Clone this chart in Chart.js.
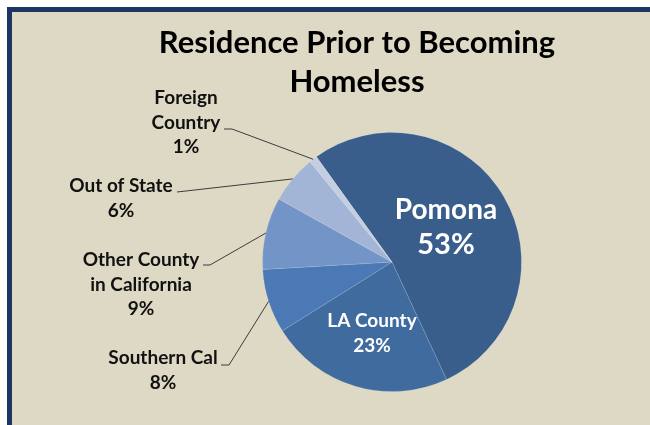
<!DOCTYPE html>
<html>
<head>
<meta charset="utf-8">
<script src="https://cdn.jsdelivr.net/npm/chart.js@4.4.1/dist/chart.umd.min.js"></script>
<style>
    body { margin: 0; width: 650px; height: 425px; overflow: hidden; background: #ffffff; }
    #frame {
        position: absolute; left: 7px; top: 7px; width: 643px; height: 414px;
        background: #ddd9c4;
        border-left: 5px solid #1c3661;
        border-top: 5px solid #1c3661;
        border-bottom: 2px solid #8e9893;
    }
    #wrap { position: absolute; left: 0; top: 0; width: 650px; height: 425px; }
</style>
</head>
<body>
<div id="frame"></div>
<div id="wrap"><canvas id="chart" width="650" height="425"></canvas></div>
<script>
const categories = ['Pomona', 'LA County', 'Southern Cal', 'Other County in California', 'Out of State', 'Foreign Country'];
const values = [53, 23, 8, 9, 6, 1];
const sliceColors = ['#3a5e8c', '#406b9f', '#4a79b5', '#7394c7', '#a3b5d7', '#c4cee3'];
const titleLines = ['Residence Prior to Becoming', 'Homeless'];

const FONT = 'Lato, "Open Sans", sans-serif';

// how each label is written and where it sits
const labelStyle = [
    { lines: ['Pomona'], x: 446, y: 210, size: 28, pctSize: 29, lineH: 35, color: '#ffffff' },
    { lines: ['LA County'], x: 372, y: 321, size: 19, pctSize: 19, lineH: 25, color: '#ffffff' },
    { lines: ['Southern Cal'], x: 163, y: 358, size: 19, pctSize: 19, lineH: 25, color: '#111111', lead: [[221, 365], [229, 365]] },
    { lines: ['Other County', 'in California'], x: 141, y: 260, size: 19, pctSize: 19, lineH: 24.5, color: '#111111', lead: [[203, 265], [210, 265]] },
    { lines: ['Out of State'], x: 121, y: 186, size: 19, pctSize: 19, lineH: 25, color: '#111111', lead: [[177, 192]] },
    { lines: ['Foreign', 'Country'], x: 186, y: 98, size: 19, pctSize: 19, lineH: 24.5, color: '#111111', lead: [[224, 129], [232, 129]] }
];

const labelPlugin = {
    id: 'pieLabels',
    afterDraw(chart) {
        const ctx = chart.ctx;
        ctx.save();

        // title
        ctx.fillStyle = '#000000';
        ctx.font = 'bold 31px ' + FONT;
        ctx.textAlign = 'center';
        ctx.textBaseline = 'middle';
        titleLines.forEach((t, i) => ctx.fillText(t, 357, 43 + i * 39));

        const arcs = chart.getDatasetMeta(0).data;
        arcs.forEach((arc, i) => {
            const st = labelStyle[i];
            const rows = st.lines.concat([values[i] + '%']);

            ctx.fillStyle = st.color;
            rows.forEach((r, k) => {
                const size = k === rows.length - 1 ? st.pctSize : st.size;
                ctx.font = 'bold ' + size + 'px ' + FONT;
                ctx.fillText(r, st.x, st.y + k * st.lineH);
            });

            if (st.lead) {
                // leader line ends on the rim at the middle of the slice
                const mid = (arc.startAngle + arc.endAngle) / 2;
                const ex = arc.x + Math.cos(mid) * arc.outerRadius;
                const ey = arc.y + Math.sin(mid) * arc.outerRadius;
                ctx.strokeStyle = '#3c3c3c';
                ctx.lineWidth = 1;
                ctx.beginPath();
                ctx.moveTo(st.lead[0][0], st.lead[0][1]);
                st.lead.slice(1).forEach(p => ctx.lineTo(p[0], p[1]));
                ctx.lineTo(ex, ey);
                ctx.stroke();
            }
        });
        ctx.restore();
    }
};

new Chart(document.getElementById('chart'), {
    type: 'pie',
    data: {
        labels: categories,
        datasets: [{
            data: values,
            backgroundColor: sliceColors,
            borderColor: 'rgba(255,255,255,0.12)',
            borderWidth: 1
        }]
    },
    options: {
        responsive: false,
        animation: false,
        rotation: -35.7,
        layout: { padding: { left: 262, right: 128, top: 132, bottom: 33 } },
        plugins: {
            legend: { display: false },
            title: { display: false },
            tooltip: { enabled: false }
        }
    },
    plugins: [labelPlugin]
});
</script>
</body>
</html>
